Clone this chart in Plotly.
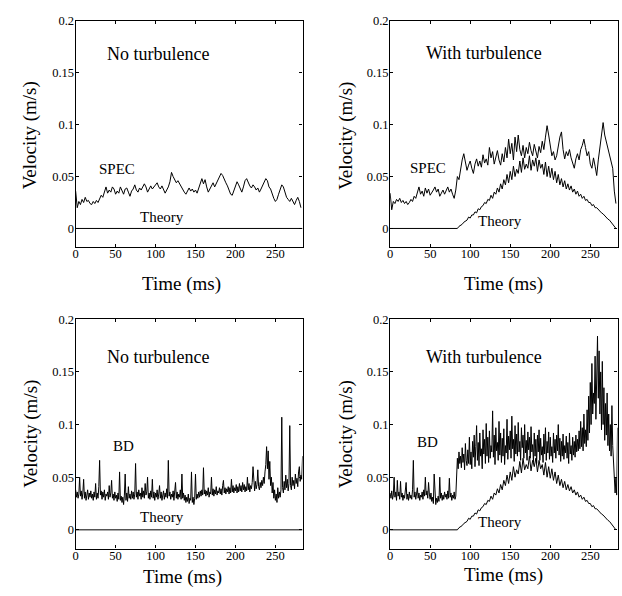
import plotly.graph_objects as go

W, H = 622, 596
FONT = "Liberation Serif, Times New Roman, serif"

# ---------------- data (velocities in mm/s) ----------------
# SPEC, no turbulence, sampled every 2 ms from t = 0
spec_no_mm_s = [
    36, 20, 26, 23, 28, 25, 30, 26, 27, 24,
    23, 26, 24, 27, 25, 29, 32, 30, 36, 40,
    34, 37, 35, 40, 38, 33, 36, 34, 40, 36,
    33, 38, 39, 35, 31, 36, 38, 42, 37, 35,
    39, 37, 41, 43, 40, 35, 38, 41, 38, 40,
    43, 44, 40, 38, 41, 37, 34, 37, 40, 45,
    54, 50, 47, 44, 46, 43, 40, 37, 35, 33,
    36, 39, 36, 38, 35, 37, 34, 39, 44, 48,
    43, 47, 40, 35, 38, 41, 44, 40, 43, 46,
    49, 53, 51, 47, 44, 41, 37, 33, 32, 36,
    41, 45, 42, 38, 35, 40, 46, 48, 44, 41,
    39, 42, 40, 37, 39, 35, 38, 41, 45, 48,
    46, 40, 38, 33, 29, 26, 28, 33, 38, 42,
    40, 35, 30, 28, 26, 29, 25, 23, 27, 30,
    26, 20,
]

# SPEC, with turbulence, sampled every 2 ms from t = 0
spec_turb_mm_s = [
    34, 18, 26, 24, 28, 26, 29, 25, 27, 24,
    26, 23, 25, 28, 26, 31, 29, 35, 40, 33,
    36, 31, 39, 34, 38, 32, 34, 37, 40, 35,
    38, 31, 34, 37, 33, 36, 40, 35, 38, 33,
    29, 37, 50, 47, 58, 66, 72, 62, 56, 61,
    65, 58, 53, 62, 67, 60, 65, 59, 71, 63,
    67, 61, 78, 68, 74, 62, 70, 75, 66, 61,
    72, 64, 78, 68, 86, 72, 82, 66, 88, 74,
    90, 76, 70, 80, 68, 78, 72, 83, 75, 70,
    81, 74, 68, 79, 73, 84, 76, 88, 99, 90,
    78, 70, 74, 66, 70, 80, 88, 93, 76, 67,
    74, 70, 76, 68, 64, 58, 67, 72, 66, 76,
    80, 86, 78, 70, 74, 62, 58, 68, 60, 51,
    66, 80, 92, 102, 90, 83, 76, 70, 64, 58,
    36, 24,
]

# BD, no turbulence, sampled every 1 ms from t = 0
bd_no_mm_s = [
    38, 31, 36, 30, 34, 50, 32, 37, 29, 35,
    48, 30, 36, 28, 33, 38, 29, 35, 31, 37,
    30, 34, 28, 36, 31, 44, 29, 35, 30, 41,
    66, 33, 37, 29, 36, 31, 38, 28, 34, 32,
    36, 29, 42, 31, 35, 47, 30, 34, 28, 36,
    30, 33, 27, 35, 29, 55, 28, 32, 26, 31,
    24, 33, 53, 28, 35, 27, 41, 30, 34, 29,
    37, 30, 36, 29, 34, 63, 31, 36, 29, 38,
    32, 35, 29, 40, 31, 37, 30, 44, 33, 36,
    50, 30, 35, 29, 37, 31, 48, 30, 36, 28,
    35, 31, 38, 29, 34, 42, 30, 36, 28, 33,
    37, 29, 35, 31, 39, 30, 66, 32, 36, 29,
    34, 31, 37, 28, 35, 45, 30, 36, 29, 34,
    31, 38, 29, 53, 30, 35, 28, 33, 26, 31,
    27, 34, 25, 30, 28, 55, 26, 31, 24, 30,
    53, 29, 34, 30, 36, 31, 37, 32, 38, 33,
    59, 34, 38, 32, 37, 33, 40, 31, 36, 34,
    50, 33, 39, 32, 38, 34, 41, 33, 37, 35,
    40, 34, 39, 33, 42, 47, 35, 40, 34, 39,
    36, 41, 34, 40, 35, 48, 36, 42, 35, 40,
    37, 43, 35, 41, 36, 44, 37, 42, 36, 45,
    38, 43, 36, 41, 37, 50, 38, 44, 36, 42,
    39, 45, 60, 40, 37, 46, 39, 43, 57, 41,
    38, 45, 40, 47, 42, 50, 44, 55, 62, 79,
    58, 75, 48, 65, 42, 50, 35, 45, 30, 38,
    28, 34, 26, 40, 30, 36, 31, 38, 107, 40,
    35, 46, 38, 52, 40, 48, 37, 44, 99, 42,
    38, 50, 42, 47, 39, 53, 44, 49, 41, 55,
    60, 46, 52, 48, 70,
]

# BD, with turbulence, sampled every 1 ms from t = 0
bd_turb_mm_s = [
    35, 30, 37, 29, 33, 50, 31, 36, 28, 47,
    32, 36, 29, 46, 31, 35, 28, 33, 30, 36,
    45, 29, 34, 28, 36, 30, 33, 29, 38, 66,
    31, 36, 29, 34, 40, 30, 35, 28, 33, 31,
    36, 29, 38, 32, 50, 33, 37, 30, 45, 34,
    29, 35, 27, 31, 25, 53, 28, 24, 30, 26,
    32, 27, 50, 30, 35, 28, 33, 29, 36, 31,
    34, 29, 37, 30, 49, 31, 35, 28, 33, 30,
    36, 29, 32, 45, 68, 58, 74, 63, 70, 59,
    78, 64, 72, 57, 82, 66, 61, 76, 63, 88,
    62, 74, 58, 84, 69, 90, 60, 79, 99, 66,
    83, 61, 92, 70, 77, 58, 95, 72, 86, 63,
    101, 70, 88, 64, 94, 68, 80, 74, 113, 69,
    90, 62, 97, 75, 83, 66, 103, 71, 92, 64,
    87, 70, 96, 62, 80, 73, 105, 67, 89, 76,
    94, 68, 108, 77, 86, 65, 99, 72, 91, 70,
    102, 74, 84, 66, 97, 78, 90, 68, 100, 73,
    85, 66, 93, 76, 88, 68, 98, 74, 81, 64,
    92, 70, 86, 63, 90, 74, 95, 66, 87, 71,
    79, 64, 91, 72, 97, 66, 84, 73, 93, 67,
    88, 70, 79, 64, 92, 73, 86, 68, 90, 75,
    100, 71, 87, 65, 84, 70, 91, 67, 80, 73,
    89, 68, 83, 63, 92, 72, 80, 66, 88, 71,
    84, 69, 90, 74, 86, 75, 94, 77, 103, 79,
    97, 75, 110, 82, 95, 79, 114, 85, 127, 92,
    140, 100, 158, 110, 130, 120, 165, 105, 150, 184,
    125, 170, 110, 150, 95, 160, 100, 135, 85, 120,
    90, 130, 80, 110, 75, 100, 70, 118, 80, 60,
    45, 35, 50, 33, 97,
]

# Theory with turbulence: 0 at t = 0 and then every 2 ms from t = 84
theory_turb_time_ms = [0] + list(range(84, 283, 2))
theory_turb_mm_s = [0,
    0, 2, 3, 4, 6, 7, 8, 11, 10, 13,
    13, 16, 15, 19, 18, 21, 22, 25, 24, 28,
    27, 32, 29, 35, 33, 39, 35, 43, 38, 47,
    42, 52, 44, 55, 47, 60, 50, 57, 53, 65,
    54, 68, 57, 62, 58, 70, 56, 66, 60, 68,
    55, 66, 58, 62, 52, 64, 50, 60, 49, 58,
    47, 55, 44, 52, 42, 48, 40, 46, 38, 43,
    37, 41, 35, 38, 33, 36, 31, 33, 29, 31,
    27, 28, 25, 25, 22, 23, 20, 20, 18, 17,
    15, 14, 12, 11, 9, 8, 6, 4, 2, 0,
]

# Theory without turbulence: zero velocity over the whole record
theory_flat_time_ms = [0, 284]
theory_flat_mm_s = [0, 0]

x_tickvals = [0, 50, 100, 150, 200, 250]
y_tickvals = [0, 0.05, 0.1, 0.15, 0.2]
y_ticktext = ["0", "0.05", "0.1", "0.15", "0.2"]

panel_titles = ["No turbulence", "With turbulence", "No turbulence", "With turbulence"]
method_labels = ["SPEC", "SPEC", "BD", "BD"]


def ms_to_m_s(vals):
    return [v / 1000.0 for v in vals]


def grid(vals, step):
    return [i * step for i in range(len(vals))]


series = [
    (grid(spec_no_mm_s, 2), spec_no_mm_s, theory_flat_time_ms, theory_flat_mm_s),
    (grid(spec_turb_mm_s, 2), spec_turb_mm_s, theory_turb_time_ms, theory_turb_mm_s),
    (grid(bd_no_mm_s, 1), bd_no_mm_s, theory_flat_time_ms, theory_flat_mm_s),
    (grid(bd_turb_mm_s, 1), bd_turb_mm_s, theory_turb_time_ms, theory_turb_mm_s),
]

# ---------------- layout geometry (pixels) ----------------
px_x = [(73, 301), (389, 617.5), (73, 301), (389, 617.5)]
px_y = [(14, 243), (14, 243), (316, 548), (316, 548)]
y_ranges = [[-0.018, 0.2], [-0.018, 0.2], [-0.0178, 0.2], [-0.0178, 0.2]]

fig = go.Figure()
layout = dict(
    width=W, height=H, autosize=False,
    margin=dict(l=0, r=0, t=0, b=0),
    paper_bgcolor="white", plot_bgcolor="white",
    showlegend=False,
    font=dict(family=FONT, color="black", size=12.5),
)

for i, (tx, vy, thx, thy) in enumerate(series):
    n = "" if i == 0 else str(i + 1)
    xa, ya = "x" + n, "y" + n
    fig.add_trace(go.Scatter(x=thx, y=ms_to_m_s(thy), mode="lines",
                             line=dict(color="black", width=1), xaxis=xa, yaxis=ya,
                             hoverinfo="skip"))
    fig.add_trace(go.Scatter(x=tx, y=ms_to_m_s(vy), mode="lines",
                             line=dict(color="black", width=1), xaxis=xa, yaxis=ya,
                             hoverinfo="skip"))
    x0, x1 = px_x[i]
    y0, y1 = px_y[i]
    axis_common = dict(showline=True, linecolor="black", linewidth=1.2, mirror="ticks",
                       ticks="inside", ticklen=3, tickcolor="black", tickwidth=1,
                       showgrid=False, zeroline=False,
                       tickfont=dict(family=FONT, size=12.5, color="black"))
    layout["xaxis" + n] = dict(axis_common, domain=[x0 / W, x1 / W], range=[0, 284],
                               tickvals=x_tickvals, anchor=ya, ticklabelstandoff=-5)
    layout["yaxis" + n] = dict(axis_common, domain=[1 - y1 / H, 1 - y0 / H], range=y_ranges[i],
                               tickvals=y_tickvals, ticktext=y_ticktext, anchor=xa,
                               ticklabelstandoff=-2)

annotations = []


def ann(text, px, py, size, angle=0):
    annotations.append(dict(text=text, x=px / W, y=1 - py / H, xref="paper", yref="paper",
                            xanchor="center", yanchor="middle", showarrow=False,
                            textangle=angle, font=dict(family=FONT, size=size, color="black")))


# axis titles
ann("Velocity (m/s)", 28, 130, 19, -90)
ann("Velocity (m/s)", 345, 130, 19, -90)
ann("Velocity (m/s)", 28, 432, 19, -90)
ann("Velocity (m/s)", 345, 432, 19, -90)
ann("Time (ms)", 179, 280, 19)
ann("Time (ms)", 503, 280, 19)
ann("Time (ms)", 180, 577, 19)
ann("Time (ms)", 503, 575, 19)

# panel titles
ann(panel_titles[0], 156, 48, 18)
ann(panel_titles[1], 483, 47, 18)
ann(panel_titles[2], 156, 354, 18)
ann(panel_titles[3], 483, 354, 18)

# curve labels
ann(method_labels[0], 115, 164, 15)
ann(method_labels[1], 427, 163, 15)
ann(method_labels[2], 121, 444, 15)
ann(method_labels[3], 427, 440, 15)
ann("Theory", 160, 212, 15)
ann("Theory", 499, 217, 15)
ann("Theory", 160, 516, 15)
ann("Theory", 499, 521, 15)

layout["annotations"] = annotations
fig.update_layout(**layout)
fig.write_html(
    "out.html",
    config={"displayModeBar": False},
    post_script="document.body.style.margin='0';document.body.style.overflow='hidden';",
)
